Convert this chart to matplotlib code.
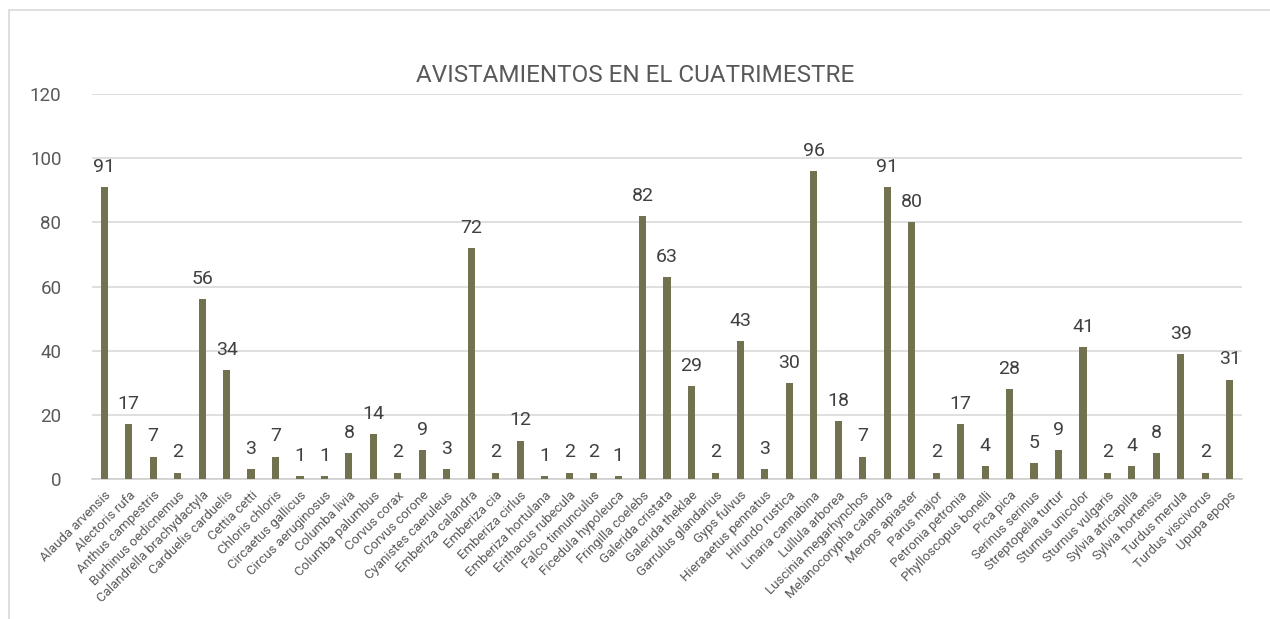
import matplotlib.pyplot as plt
from matplotlib.patches import Rectangle

especies = ["Alauda arvensis", "Alectoris rufa", "Anthus campestris", "Burhinus oedicnemus",
            "Calandrella brachydactyla", "Carduelis carduelis", "Cettia cetti", "Chloris chloris",
            "Circaetus gallicus", "Circus aeruginosus", "Columba livia", "Columba palumbus",
            "Corvus corax", "Corvus corone", "Cyanistes caeruleus", "Emberiza calandra",
            "Emberiza cia", "Emberiza cirlus", "Emberiza hortulana", "Erithacus rubecula",
            "Falco tinnunculus", "Ficedula hypoleuca", "Fringilla coelebs", "Galerida cristata",
            "Galerida theklae", "Garrulus glandarius", "Gyps fulvus", "Hieraaetus pennatus",
            "Hirundo rustica", "Linaria cannabina", "Lullula arborea", "Luscinia megarhynchos",
            "Melanocorypha calandra", "Merops apiaster", "Parus major", "Petronia petronia",
            "Phylloscopus bonelli", "Pica pica", "Serinus serinus", "Streptopelia turtur",
            "Sturnus unicolor", "Sturnus vulgaris", "Sylvia atricapilla", "Sylvia hortensis",
            "Turdus merula", "Turdus viscivorus", "Upupa epops"]
avistamientos = [91, 17, 7, 2, 56, 34, 3, 7, 1, 1, 8, 14, 2, 9, 3, 72, 2, 12, 1, 2, 2, 1,
                 82, 63, 29, 2, 43, 3, 30, 96, 18, 7, 91, 80, 2, 17, 4, 28, 5, 9, 41, 2,
                 4, 8, 39, 2, 31]
y_ticks = [0, 20, 40, 60, 80, 100, 120]

plt.rcParams['font.family'] = ['Roboto', 'DejaVu Sans']
gris = '#595959'

fig = plt.figure(figsize=(12.7, 6.19), dpi=100)
fig.patches.append(Rectangle((9 / 1270, -0.1), 1.2, 1 - 9.5 / 619 + 0.1,
                             transform=fig.transFigure, fill=False,
                             edgecolor='#d9d9d9', linewidth=1.2))
ax = fig.add_axes([92 / 1270, 1 - 479 / 619, 1150 / 1270, 385 / 619])

x = range(len(especies))
bars = ax.bar(x, avistamientos, width=0.29, color='#727150', zorder=3)
for b, v in zip(bars, avistamientos):
    ax.annotate(str(v), (b.get_x() + b.get_width() / 2, v), xytext=(0, 8),
                textcoords='offset points', ha='center', va='bottom',
                fontsize=14, color='#404040')

ax.set_xlim(-0.5, len(especies) - 0.5)
ax.set_ylim(0, 120)
ax.set_yticks(y_ticks)
ax.set_yticklabels([str(t) for t in y_ticks], fontsize=13.5, color=gris)
ax.set_xticks(list(x))
ax.set_xticklabels(especies, rotation=45, ha='right', rotation_mode='anchor',
                   fontsize=9.5, color=gris)
ax.tick_params(axis='both', length=0)
ax.tick_params(axis='y', pad=22)
ax.tick_params(axis='x', pad=7)
ax.grid(axis='y', color='#d9d9d9', linewidth=1.2, zorder=0)
for s in ['top', 'right', 'left']:
    ax.spines[s].set_visible(False)
ax.spines['bottom'].set_color('#d0d0d0')
ax.spines['bottom'].set_linewidth(1.2)

fig.text(0.5, 1 - 75 / 619, "AVISTAMIENTOS EN EL CUATRIMESTRE", ha='center', va='center',
         fontsize=17.5, color=gris)

fig.savefig('out.png', dpi=100)
